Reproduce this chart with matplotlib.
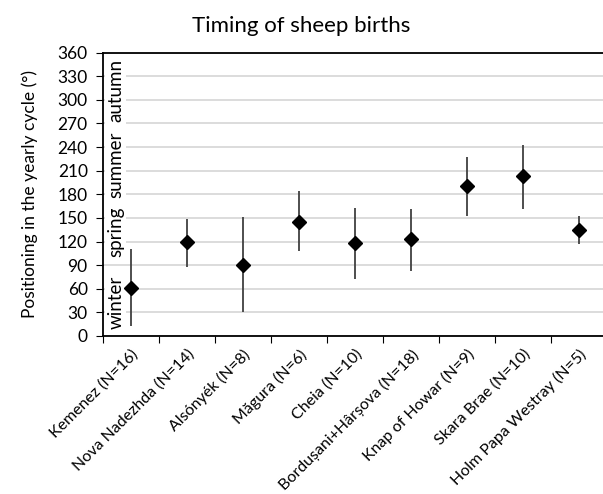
import matplotlib
matplotlib.use("Agg")
import matplotlib.pyplot as plt
import numpy as np

categories = ["Kemenez (N=16)", "Nova Nadezhda (N=14)", "Alsónyék (N=8)", "Măgura (N=6)",
              "Cheia (N=10)", "Bordușani+Hârșova (N=18)", "Knap of Howar (N=9)",
              "Skara Brae (N=10)", "Holm Papa Westray (N=5)"]
mean = [61, 119, 90, 145, 118, 123, 190, 203, 134]
upper = [110, 148, 151, 184, 163, 161, 227, 243, 152]
lower = [13, 88, 30, 108, 73, 83, 153, 161, 117]
seasons = ["winter", "spring", "summer", "autumn"]
season_pos = [43, 132, 217, 312]
yticks = list(range(0, 361, 30))

plt.rcParams['font.family'] = ['Lato', 'DejaVu Sans']

fig = plt.figure(figsize=(6.03, 4.94), dpi=100)
ax = fig.add_axes([103/603, 1-336/494, (607-103)/603, (336-52.5)/494])

x = np.arange(len(categories))
m = np.array(mean); up = np.array(upper); lo = np.array(lower)
ax.errorbar(x, m, yerr=[m-lo, up-m], fmt='D', color='black', ecolor='#404040',
            elinewidth=1.3, markersize=7.5, capsize=0, zorder=3)

ax.set_xlim(-0.5, len(categories)-0.5)
ax.set_ylim(0, 360)
ax.set_yticks(yticks)
ax.set_yticklabels([str(v) for v in yticks], fontsize=12.5)
ax.yaxis.grid(True, color='#d9d9d9', linewidth=1.3)
ax.set_axisbelow(True)

ax.set_xticks(np.arange(len(categories)+1)-0.5, minor=False)
ax.set_xticklabels([])
ax.set_xticks(x, minor=True)
ax.set_xticklabels(categories, minor=True, rotation=45, ha='right', va='top',
                   rotation_mode='anchor', fontsize=11.5)
ax.tick_params(axis='x', which='minor', length=0, pad=8)
ax.tick_params(axis='x', which='major', length=5, direction='out', color='black')
ax.tick_params(axis='y', length=5, direction='out', color='black', pad=6)

for s in ['left', 'bottom', 'top']:
    ax.spines[s].set_color('black')
    ax.spines[s].set_linewidth(1.3)
ax.spines['right'].set_visible(False)

for name, p in zip(seasons, season_pos):
    ax.text(-0.27, p, name, rotation=90, ha='center', va='center', fontsize=13.5,
            bbox=dict(facecolor='white', edgecolor='none', pad=1.5), zorder=2)

ax.set_ylabel("Positioning in the yearly cycle (°)", fontsize=12.5, labelpad=14)
fig.text(0.5, 1-26/494, "Timing of sheep births", ha='center', va='center', fontsize=16)

fig.savefig("out.png", dpi=100)
